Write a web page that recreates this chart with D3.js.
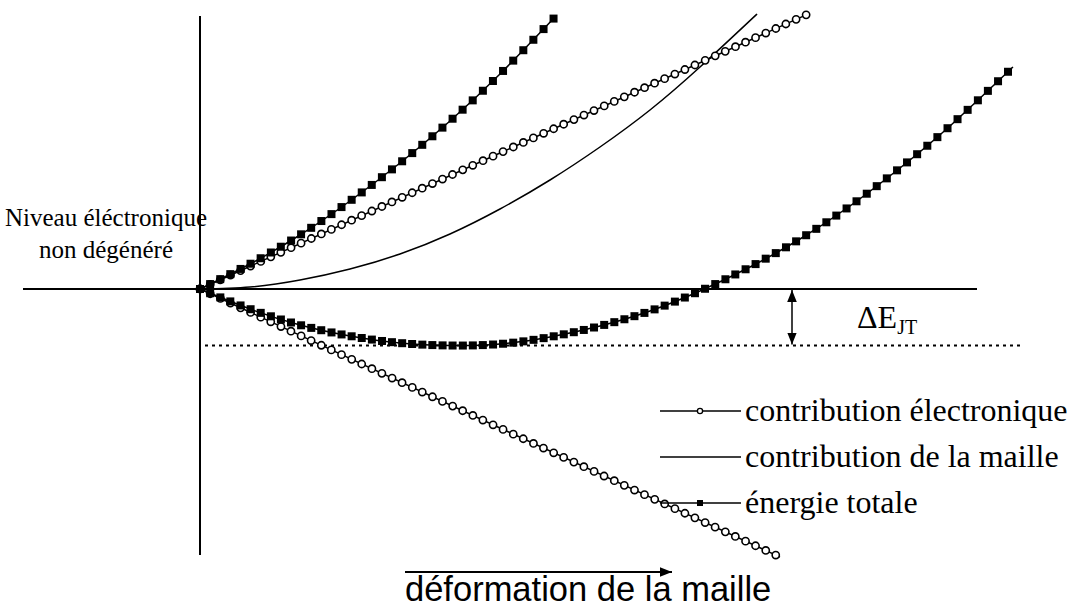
<!DOCTYPE html>
<html>
<head>
<meta charset="utf-8">
<script src="https://cdn.jsdelivr.net/npm/d3@7.9.0/dist/d3.min.js"></script>
<style>
  body { margin: 0; background: #fff; }
  svg { display: block; }
</style>
</head>
<body>
<svg id="chart" width="1082" height="607"></svg>
<script>
// values (x: deformation, E: energy, 0 = non-degenerate level)
const elecUp = [[0, 0], [3, 1.36], [6.08, 2.75]];
const elecDown = [[0, 0], [3, -1.39], [5.8, -2.68]];
const lattice = [[0, 0], [0.5, 0.02], [1, 0.09], [1.5, 0.2], [2, 0.35], [2.5, 0.55], [3, 0.8],
  [3.5, 1.09], [4, 1.42], [4.5, 1.79], [5, 2.22], [5.57, 2.75]];
const totalUp = [[0, 0], [0.5, 0.25], [1, 0.54], [1.5, 0.88], [2, 1.26], [2.5, 1.68], [3, 2.15], [3.56, 2.73]];
const totalDown = [[0, 0], [0.5, -0.2], [1, -0.36], [1.5, -0.47], [2, -0.54], [2.5, -0.565], [3, -0.55],
  [3.5, -0.48], [4, -0.37], [4.5, -0.22], [5, -0.02], [5.5, 0.22], [6, 0.5], [6.5, 0.83],
  [7, 1.21], [7.5, 1.63], [8.13, 2.22]];
const deltaEJT = -0.565;
const legendLabels = ['contribution électronique', 'contribution de la maille', 'énergie totale'];

const svg = d3.select('#chart');
svg.append('rect').attr('width', 1082).attr('height', 607).attr('fill', '#fff');

const x = d3.scaleLinear().domain([0, 8.13]).range([200, 1013]);
const y = d3.scaleLinear().domain([-2.7, 2.75]).range([559, 14]);

const defs = svg.append('defs');
defs.append('marker')
  .attr('id', 'head')
  .attr('viewBox', '0 0 10 10')
  .attr('refX', 10).attr('refY', 5)
  .attr('markerWidth', 12).attr('markerHeight', 12)
  .attr('markerUnits', 'userSpaceOnUse')
  .attr('orient', 'auto-start-reverse')
  .append('path').attr('d', 'M0,1 L10,5 L0,9 Z').attr('fill', '#000');

// axes
svg.append('line')
  .attr('x1', x(0)).attr('x2', x(0))
  .attr('y1', 16).attr('y2', 555)
  .attr('stroke', '#000').attr('stroke-width', 2);
svg.append('line')
  .attr('x1', 23).attr('x2', 977)
  .attr('y1', y(0)).attr('y2', y(0))
  .attr('stroke', '#000').attr('stroke-width', 2);

// Jahn-Teller stabilisation level
svg.append('line')
  .attr('x1', x(0.05)).attr('x2', 1020)
  .attr('y1', y(deltaEJT)).attr('y2', y(deltaEJT))
  .attr('stroke', '#000').attr('stroke-width', 2)
  .attr('stroke-dasharray', '3,4');
svg.append('line')
  .attr('x1', 792).attr('x2', 792)
  .attr('y1', y(0) + 1).attr('y2', y(deltaEJT) - 1)
  .attr('stroke', '#000').attr('stroke-width', 1.5)
  .attr('marker-start', 'url(#head)')
  .attr('marker-end', 'url(#head)');
const dE = svg.append('text')
  .attr('x', 857).attr('y', 328)
  .attr('font-family', 'Liberation Serif, Times New Roman, serif')
  .attr('font-size', 32);
dE.append('tspan').text('ΔE');
dE.append('tspan').attr('font-size', 20).attr('dy', 6).text('JT');

const line = d3.line().x(d => x(d[0])).y(d => y(d[1])).curve(d3.curveNatural);

function drawCurve(data) {
  return svg.append('path')
    .attr('d', line(data))
    .attr('fill', 'none')
    .attr('stroke', '#000')
    .attr('stroke-width', 1.5);
}

// points along a path, one every `step` px horizontally
function pointsAlong(path, step) {
  const node = path.node();
  const len = node.getTotalLength();
  const pts = [];
  let next = node.getPointAtLength(0).x;
  for (let l = 0; l <= len; l += 0.25) {
    const p = node.getPointAtLength(l);
    if (p.x >= next) {
      pts.push(p);
      next += step;
    }
  }
  return pts;
}

function circles(pts) {
  svg.append('g').selectAll('circle').data(pts).join('circle')
    .attr('cx', d => d.x).attr('cy', d => d.y).attr('r', 3.6)
    .attr('fill', '#fff').attr('stroke', '#000').attr('stroke-width', 1.6);
}
function squares(pts) {
  svg.append('g').selectAll('rect').data(pts).join('rect')
    .attr('x', d => d.x - 4).attr('y', d => d.y - 4)
    .attr('width', 8).attr('height', 8).attr('fill', '#000');
}

const step = 10.1;
drawCurve(lattice);
const pTu = drawCurve(totalUp);
const pTd = drawCurve(totalDown);
const pEu = drawCurve(elecUp);
const pEd = drawCurve(elecDown);
circles(pointsAlong(pEu, step));
circles(pointsAlong(pEd, step));
squares(pointsAlong(pTu, step));
squares(pointsAlong(pTd, step));

// level label
const lvl = svg.append('g')
  .attr('font-family', 'Liberation Serif, Times New Roman, serif')
  .attr('font-size', 25)
  .attr('text-anchor', 'middle');
lvl.append('text').attr('x', 106).attr('y', 226).text('Niveau éléctronique');
lvl.append('text').attr('x', 106).attr('y', 258).text('non dégénéré');

// legend
const legendY = d3.scalePoint().domain(legendLabels).range([411, 503]);
const lg = svg.append('g');
legendLabels.forEach((lab, i) => {
  const ly = legendY(lab);
  lg.append('line')
    .attr('x1', 660).attr('x2', 741).attr('y1', ly).attr('y2', ly)
    .attr('stroke', '#000').attr('stroke-width', 1.5);
  if (i === 0) {
    lg.append('circle').attr('cx', 700).attr('cy', ly).attr('r', 2.6)
      .attr('fill', '#fff').attr('stroke', '#000').attr('stroke-width', 1.3);
  }
  if (i === 2) {
    lg.append('rect').attr('x', 697).attr('y', ly - 3).attr('width', 6).attr('height', 6).attr('fill', '#000');
  }
  lg.append('text')
    .attr('x', 745).attr('y', ly + 10)
    .attr('font-family', 'Liberation Serif, Times New Roman, serif')
    .attr('font-size', 32)
    .text(lab);
});

// x-axis label with arrow
svg.append('line')
  .attr('x1', 405).attr('x2', 672).attr('y1', 572).attr('y2', 572)
  .attr('stroke', '#000').attr('stroke-width', 2)
  .attr('marker-end', 'url(#head)');
svg.append('text')
  .attr('x', 405).attr('y', 601)
  .attr('font-family', 'Liberation Sans, Arial, sans-serif')
  .attr('font-size', 34.5)
  .text('déformation de la maille');
</script>
</body>
</html>
